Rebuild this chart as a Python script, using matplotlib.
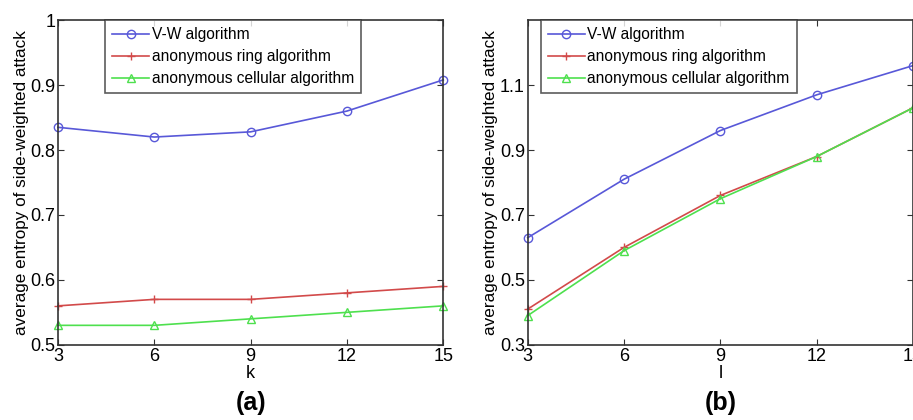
import matplotlib
matplotlib.use("Agg")
import matplotlib.pyplot as plt

plt.rcParams['font.family'] = ['Liberation Sans', 'DejaVu Sans']

x_vals = [3, 6, 9, 12, 15]
series_names = ["V-W algorithm", "anonymous ring algorithm", "anonymous cellular algorithm"]

# panel (a): varying k
vw_a = [0.835, 0.820, 0.828, 0.860, 0.908]
ring_a = [0.560, 0.570, 0.570, 0.580, 0.590]
cell_a = [0.530, 0.530, 0.540, 0.550, 0.560]

# panel (b): varying l
vw_b = [0.630, 0.810, 0.960, 1.070, 1.160]
ring_b = [0.410, 0.600, 0.760, 0.880, 1.030]
cell_b = [0.390, 0.590, 0.750, 0.880, 1.030]

colors = ["#5858d8", "#d24a4a", "#4ee04e"]
markers = ["o", "+", "^"]

fig = plt.figure(figsize=(9.13, 4.2), dpi=100)
ax1 = fig.add_axes([0.0635, 0.179, 0.422, 0.773])
ax2 = fig.add_axes([0.578, 0.179, 0.422, 0.773])


def draw(ax, ys, xlabel, ylim, yticks, ytl, tag, leg_x):
    for y, c, m, name in zip(ys, colors, markers, series_names):
        ax.plot(x_vals, y, color=c, marker=m, markersize=6, markerfacecolor="none",
                markeredgecolor=c, linewidth=1.2, label=name, clip_on=False)
    ax.set_xlim(3, 15)
    ax.set_ylim(*ylim)
    ax.set_xticks(x_vals)
    ax.set_yticks(yticks)
    ax.set_yticklabels(ytl)
    ax.tick_params(direction="in", labelsize=13, length=4, top=True, right=True,
                   labeltop=False, labelright=False, color="#333333", pad=2)
    for s in ax.spines.values():
        s.set_color("#333333")
        s.set_linewidth(1.2)
    ax.set_xlabel(xlabel, fontsize=13, labelpad=0)
    ax.set_ylabel("average entropy of side-weighted attack", fontsize=12.3, labelpad=1)
    leg = ax.legend(loc="upper left", bbox_to_anchor=(leg_x, 1.0),
                    borderaxespad=0, fontsize=11.2, frameon=True, fancybox=False,
                    handlelength=2.4, handletextpad=0.15, labelspacing=0.45,
                    borderpad=0.45)
    leg.get_frame().set_edgecolor("#333333")
    leg.get_frame().set_linewidth(1.2)
    ax.text(0.5, -0.18, tag, transform=ax.transAxes, ha="center", va="center",
            fontsize=18, fontweight="bold")


draw(ax1, [vw_a, ring_a, cell_a], "k", (0.5, 1.0),
     [0.5, 0.6, 0.7, 0.8, 0.9, 1.0], ["0.5", "0.6", "0.7", "0.8", "0.9", "1"], "(a)", 0.122)
draw(ax2, [vw_b, ring_b, cell_b], "l", (0.3, 1.3),
     [0.3, 0.5, 0.7, 0.9, 1.1], ["0.3", "0.5", "0.7", "0.9", "1.1"], "(b)", 0.034)

fig.savefig("out.png", dpi=100)
